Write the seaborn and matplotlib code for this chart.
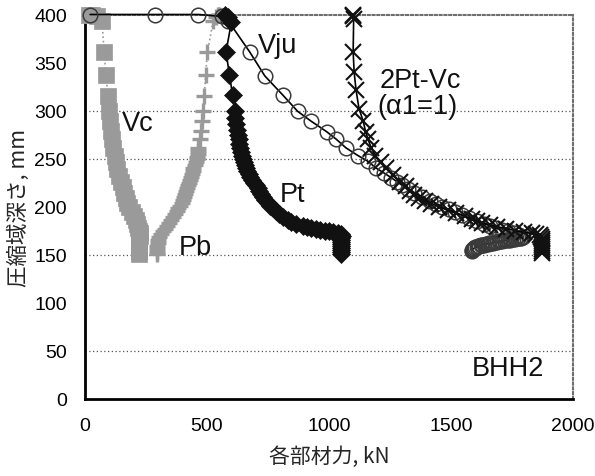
import matplotlib
matplotlib.use("Agg")
import matplotlib.pyplot as plt
import pandas as pd
import seaborn as sns

# ---------------- data: (force kN, depth mm) ----------------
vc_points = [(15, 400), (30, 400), (50, 398), (70, 393), (78, 361), (86, 337), (94, 315), (98, 300),
             (101, 289), (105, 279), (110, 270), (116, 261), (121, 253), (127, 246), (133, 239),
             (140, 232), (147, 226), (154, 220), (161, 214), (168, 209), (174, 204), (182, 199),
             (192, 194), (200, 190), (207, 186), (213, 182), (219, 178), (223, 175), (225, 172),
             (224, 169), (223, 166), (222, 163), (221, 160), (220, 157), (220, 154), (220, 151)]

pb_points = [(548, 400), (545, 399), (538, 397), (525, 393), (502, 361), (494, 337), (489, 315),
             (485, 300), (481, 289), (476, 279), (470, 270), (465, 261), (464, 258), (462, 255),
             (460, 252), (457, 249), (454, 246), (449, 243), (444, 240), (441, 237), (437, 234),
             (434, 231), (430, 228), (427, 225), (424, 222), (420, 219), (414, 216), (408, 213),
             (405, 210), (402, 207), (396, 204), (389, 201), (382, 198), (375, 195), (368, 192),
             (360, 189), (352, 186), (345, 183), (337, 180), (328, 177), (320, 174), (311, 171),
             (305, 168), (301, 165), (299, 162), (297, 159), (296, 156), (296, 153), (296, 151)]

pt_points = [(572, 400), (588, 397), (600, 392), (578, 361), (592, 337), (605, 316), (613, 300),
             (616, 292), (620, 286), (624, 280), (627, 275), (630, 270), (633, 265), (636, 261),
             (640, 257), (643, 253), (647, 249), (651, 246), (655, 243), (660, 240), (665, 237),
             (671, 234), (677, 231), (685, 228), (692, 225), (700, 222), (707, 219), (714, 216),
             (722, 213), (729, 210), (738, 207), (750, 204), (760, 201), (772, 198), (782, 195),
             (794, 192), (812, 189), (830, 186), (845, 184), (865, 182), (892, 180), (910, 179),
             (928, 178), (946, 177), (964, 176), (982, 175), (1000, 174), (1018, 173), (1035, 172),
             (1050, 171), (1052, 169), (1051, 167), (1050, 165), (1050, 163), (1049, 161),
             (1049, 159), (1049, 157), (1049, 155), (1049, 153), (1049, 151)]

vju_points = [(21, 400), (288, 400), (465, 400), (560, 398), (588, 393), (675, 361), (737, 336),
              (811, 316), (872, 299), (926, 289), (990, 278), (1030, 270), (1070, 261), (1119, 253),
              (1160, 247), (1193, 240), (1225, 235), (1255, 230), (1278, 226), (1300, 222),
              (1325, 218), (1350, 214), (1380, 210), (1412, 206), (1440, 203), (1465, 200),
              (1490, 197), (1518, 194), (1545, 191), (1575, 188), (1605, 185), (1635, 182),
              (1660, 180), (1685, 178), (1710, 176), (1735, 174), (1760, 172), (1780, 170),
              (1795, 168), (1788, 167.7), (1782, 167.5), (1775, 167.2), (1768, 167), (1761, 166.6),
              (1754, 166.3), (1747, 166), (1740, 165.6), (1732, 165.3), (1725, 165), (1718, 164.6),
              (1710, 164.3), (1702, 164), (1695, 163.6), (1688, 163.2), (1680, 162.8), (1672, 162.4),
              (1665, 162), (1657, 161.6), (1650, 161.2), (1643, 160.8), (1636, 160.3), (1629, 159.8),
              (1622, 159.4), (1616, 158.9), (1610, 158.4), (1605, 157.8), (1600, 157.3), (1596, 156.7),
              (1592, 156.2), (1589, 155.6), (1587, 155.1), (1585, 154)]

x2_points = [(1099, 400), (1100, 398), (1101, 395), (1099, 361), (1103, 340), (1111, 321),
             (1123, 302), (1140, 289), (1150, 278), (1160, 270), (1173, 261), (1190, 253),
             (1212, 246), (1235, 240), (1262, 233), (1290, 226), (1315, 221), (1330, 216),
             (1350, 212), (1368, 209), (1392, 206), (1420, 203), (1450, 200), (1486, 196),
             (1520, 193), (1556, 190), (1585, 187), (1605, 185), (1626, 183), (1660, 181),
             (1690, 179), (1725, 177), (1761, 175), (1800, 173), (1831, 172), (1850, 171),
             (1865, 170), (1870, 168), (1872, 166), (1872, 164), (1872, 162), (1872, 160),
             (1872, 158), (1872, 156), (1872, 154), (1872, 152)]

x_ticks = [0, 500, 1000, 1500, 2000]
y_ticks = [0, 50, 100, 150, 200, 250, 300, 350, 400]
grid_y = [50, 150, 250, 300]

labels = {"Vc": (152, 280), "Pb": (383, 151), "Pt": (800, 206), "Vju": (708, 361),
          "2Pt-Vc": (1206, 325), "(α1=1)": (1200, 297), "BHH2": (1584, 24)}
xlabel = "各部材力, kN"
ylabel = "圧縮域深さ, mm"

# ---------------- drawing ----------------
sns.set_theme(style="white")
plt.rcParams["font.family"] = ["Liberation Sans", "Noto Sans CJK JP", "DejaVu Sans"]

fig = plt.figure(figsize=(5.95, 4.77), dpi=100)
ax = fig.add_axes([85 / 595, 1 - 399.5 / 477, 488 / 595, 384 / 477])


def draw(points, **kw):
    df = pd.DataFrame(points, columns=["x", "d"])
    sns.lineplot(data=df, x="x", y="d", sort=False, estimator=None, ax=ax, legend=False,
                 clip_on=False, **kw)


gray = "#9a9a9a"
draw(vc_points, color=gray, linestyle=":", linewidth=1.2, marker="s", markersize=12,
     markerfacecolor=gray, markeredgecolor=gray, markeredgewidth=0.5, zorder=3)
draw(pb_points, color=gray, linestyle=":", linewidth=1.2, marker="+", markersize=12,
     markerfacecolor=gray, markeredgecolor=gray, markeredgewidth=2.4, zorder=3)
draw(vju_points, color="black", linewidth=1.2, marker="o", markersize=10.5,
     markerfacecolor="none", markeredgecolor="#3a3a3a", markeredgewidth=1.1, zorder=4)
draw(pt_points, color="black", linewidth=1.2, marker="D", markersize=9,
     markerfacecolor="#111111", markeredgecolor="#111111", markeredgewidth=0.5, zorder=5)
draw(x2_points, color="black", linewidth=1.2, marker="x", markersize=11,
     markerfacecolor="#111111", markeredgecolor="#111111", markeredgewidth=1.5, zorder=6)

for gy in grid_y:
    ax.axhline(gy, color="#555555", linestyle=(0, (1, 2)), linewidth=0.9, zorder=1)

ax.set_xlim(0, 2000)
ax.set_ylim(0, 400)
ax.set_xticks(x_ticks)
ax.set_yticks(y_ticks)
ax.tick_params(axis="both", direction="in", length=6, width=1.5, labelsize=14, color="black",
               labelcolor="black", top=False, right=False)
ax.tick_params(axis="x", pad=13)
ax.tick_params(axis="y", pad=13)

for side in ["left", "bottom"]:
    ax.spines[side].set_color("black")
    ax.spines[side].set_linewidth(2)
for side in ["top", "right"]:
    ax.spines[side].set_color("#6e6e6e")
    ax.spines[side].set_linewidth(1.5)
    ax.spines[side].set_linestyle((0, (1, 1.3)))

ax.set_xlabel(xlabel, fontsize=15, family=["Noto Sans CJK JP", "DejaVu Sans"], labelpad=8)
ax.set_ylabel(ylabel, fontsize=15.5, family=["Noto Sans CJK JP", "DejaVu Sans"], labelpad=3)

for txt, (tx, ty) in labels.items():
    ax.text(tx, ty, txt, fontsize=19.5, ha="left", va="baseline", color="#111111", zorder=7)

fig.savefig("out.png", dpi=100, facecolor="white")
